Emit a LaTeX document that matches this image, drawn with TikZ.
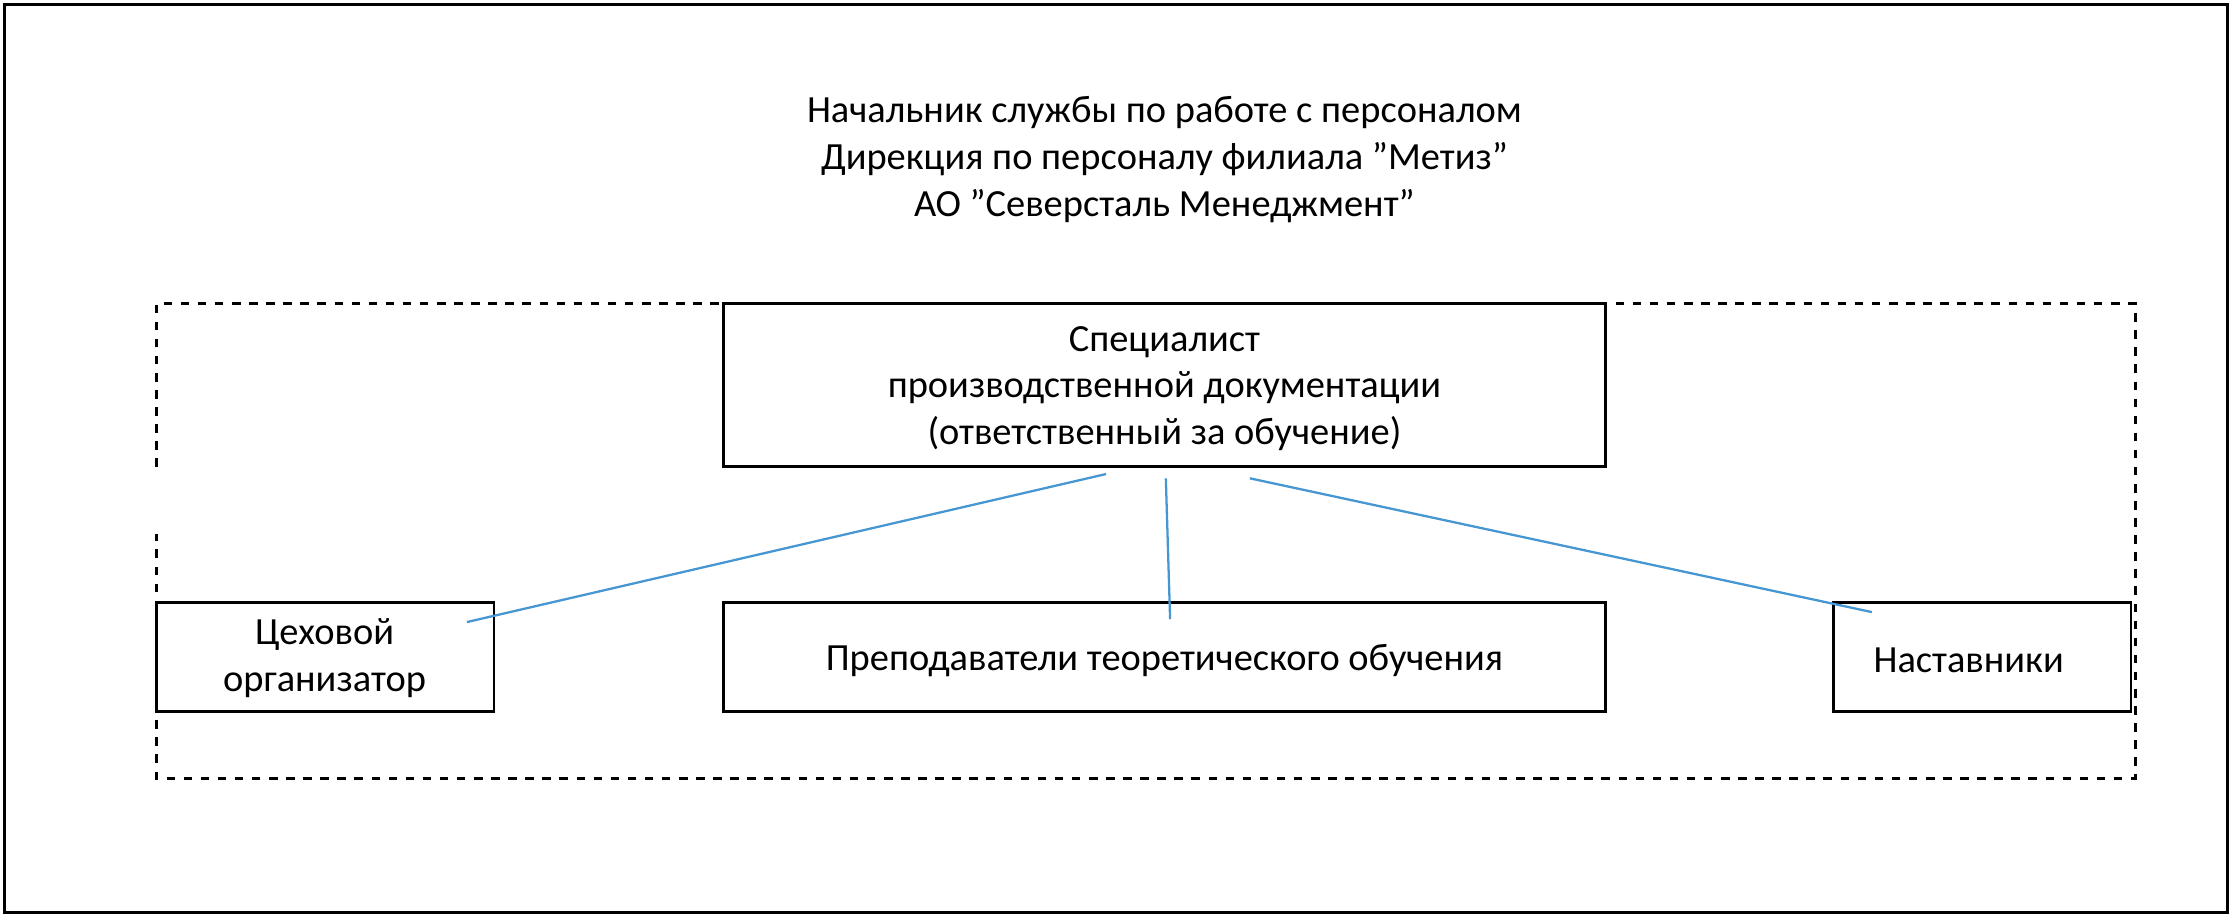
\documentclass[tikz,border=0pt]{standalone}
\usepackage{fontspec}
\setmainfont{Carlito}
\begin{document}
\begin{tikzpicture}[x=0.5pt,y=-0.5pt,
  box/.style={draw,line width=1pt,inner sep=0pt},
  lbl/.style={font=\fontsize{13.5pt}{16.5pt}\selectfont,align=center},
  link/.style={draw={rgb,255:red,70;green,150;blue,210},line width=0.8pt}]
\useasboundingbox (0,0) rectangle (1568,644);
\draw[line width=1.2pt] (3,3) rectangle (1565,641);
\node[lbl] (title) at (818,112) {Начальник службы по работе с персоналом\\Дирекция по персоналу филиала "Метиз"\\АО "Северсталь Менеджмент"};
\draw[dashed,line width=1pt] (110,328) -- (110,213) -- (1500,213) -- (1500,547) -- (110,547) -- (110,375);
\draw[box] (508,213) rectangle (1128,328);
\node[lbl] (spec) at (818,273) {Специалист\\производственной документации\\(ответственный за обучение)};
\draw[box] (110,423) rectangle (347,500);
\node[lbl] (ceh) at (228,462) {Цеховой\\организатор};
\draw[box] (508,423) rectangle (1128,500);
\node[lbl] (prep) at (818,464) {Преподаватели теоретического обучения};
\draw[box] (1288,423) rectangle (1497,500);
\node[lbl] (nast) at (1383,464) {Наставники};
\coordinate (a1) at (777,333); \coordinate (b1) at (328,437);
\coordinate (a2) at (819,336); \coordinate (b2) at (822,435);
\coordinate (a3) at (878,336); \coordinate (b3) at (1315,430);
\draw[link] (a1) -- (b1);
\draw[link] (a2) -- (b2);
\draw[link] (a3) -- (b3);
\end{tikzpicture}
\end{document}
